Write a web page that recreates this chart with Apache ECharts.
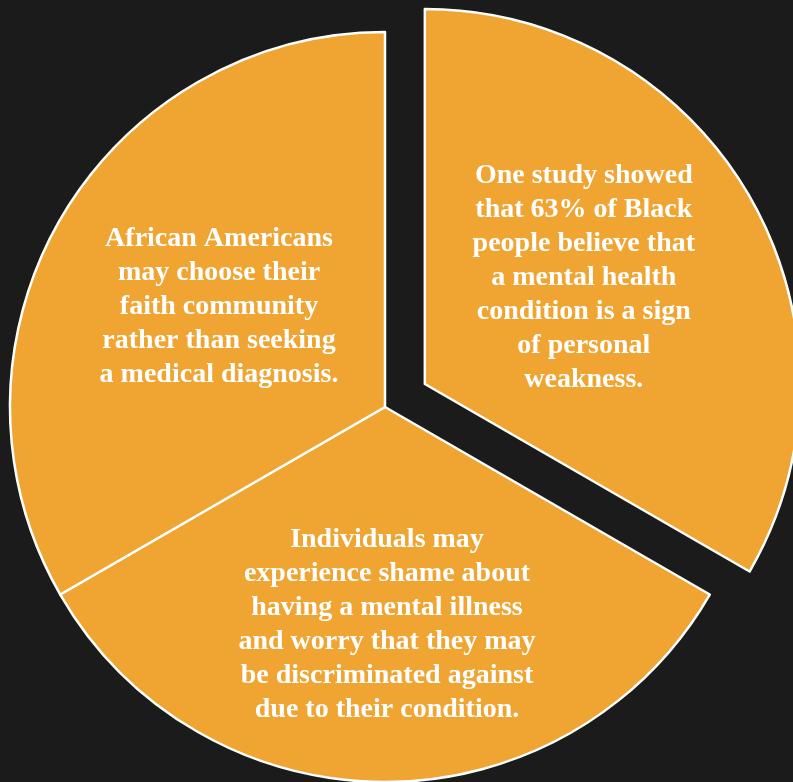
<!DOCTYPE html>
<html>
<head>
<meta charset="utf-8">
<script src="https://cdn.jsdelivr.net/npm/echarts@6/dist/echarts.min.js"></script>
<style>
  html, body { margin: 0; padding: 0; background: #1b1b1b; }
  #main { width: 793px; height: 782px; }
</style>
</head>
<body>
<div id="main"></div>
<script>
// slices go clockwise from 12 o'clock
var sliceTexts = [
  'One study showed\nthat 63% of Black\npeople believe that\na mental health\ncondition is a sign\nof personal\nweakness.',
  'Individuals may\nexperience shame about\nhaving a mental illness\nand worry that they may\nbe discriminated against\ndue to their condition.',
  'African Americans\nmay choose their\nfaith community\nrather than seeking\na medical diagnosis.'
];
var sliceValues = [1, 1, 1];
var sliceSelected = [true, false, false];
var labelOffsets = [[-6, -11], [2, 27], [-1, -5]];

var chartDom = document.getElementById('main');
var myChart = echarts.init(chartDom);
var option;

var data = sliceTexts.map(function (t, i) {
  return {
    name: t,
    value: sliceValues[i],
    selected: sliceSelected[i],
    label: { offset: labelOffsets[i] },
    select: { label: { offset: labelOffsets[i] } }
  };
});

option = {
  backgroundColor: '#1b1b1b',
  animation: false,
  series: [
    {
      type: 'pie',
      center: [385, 407],
      radius: [0, 375],
      startAngle: 90,
      clockwise: true,
      selectedMode: 'single',
      selectedOffset: 46,
      avoidLabelOverlap: false,
      itemStyle: {
        color: '#F0A431',
        borderColor: '#ffffff',
        borderWidth: 2.5
      },
      label: {
        show: true,
        position: 'inside',
        color: '#ffffff',
        fontFamily: 'Liberation Serif',
        fontWeight: 'bold',
        fontSize: 28,
        lineHeight: 34,
        align: 'center'
      },
      labelLine: { show: false },
      emphasis: { disabled: true },
      select: { itemStyle: { color: '#F0A431', borderColor: '#ffffff', borderWidth: 2.5 } },
      data: data
    }
  ]
};

option && myChart.setOption(option);
</script>
</body>
</html>
